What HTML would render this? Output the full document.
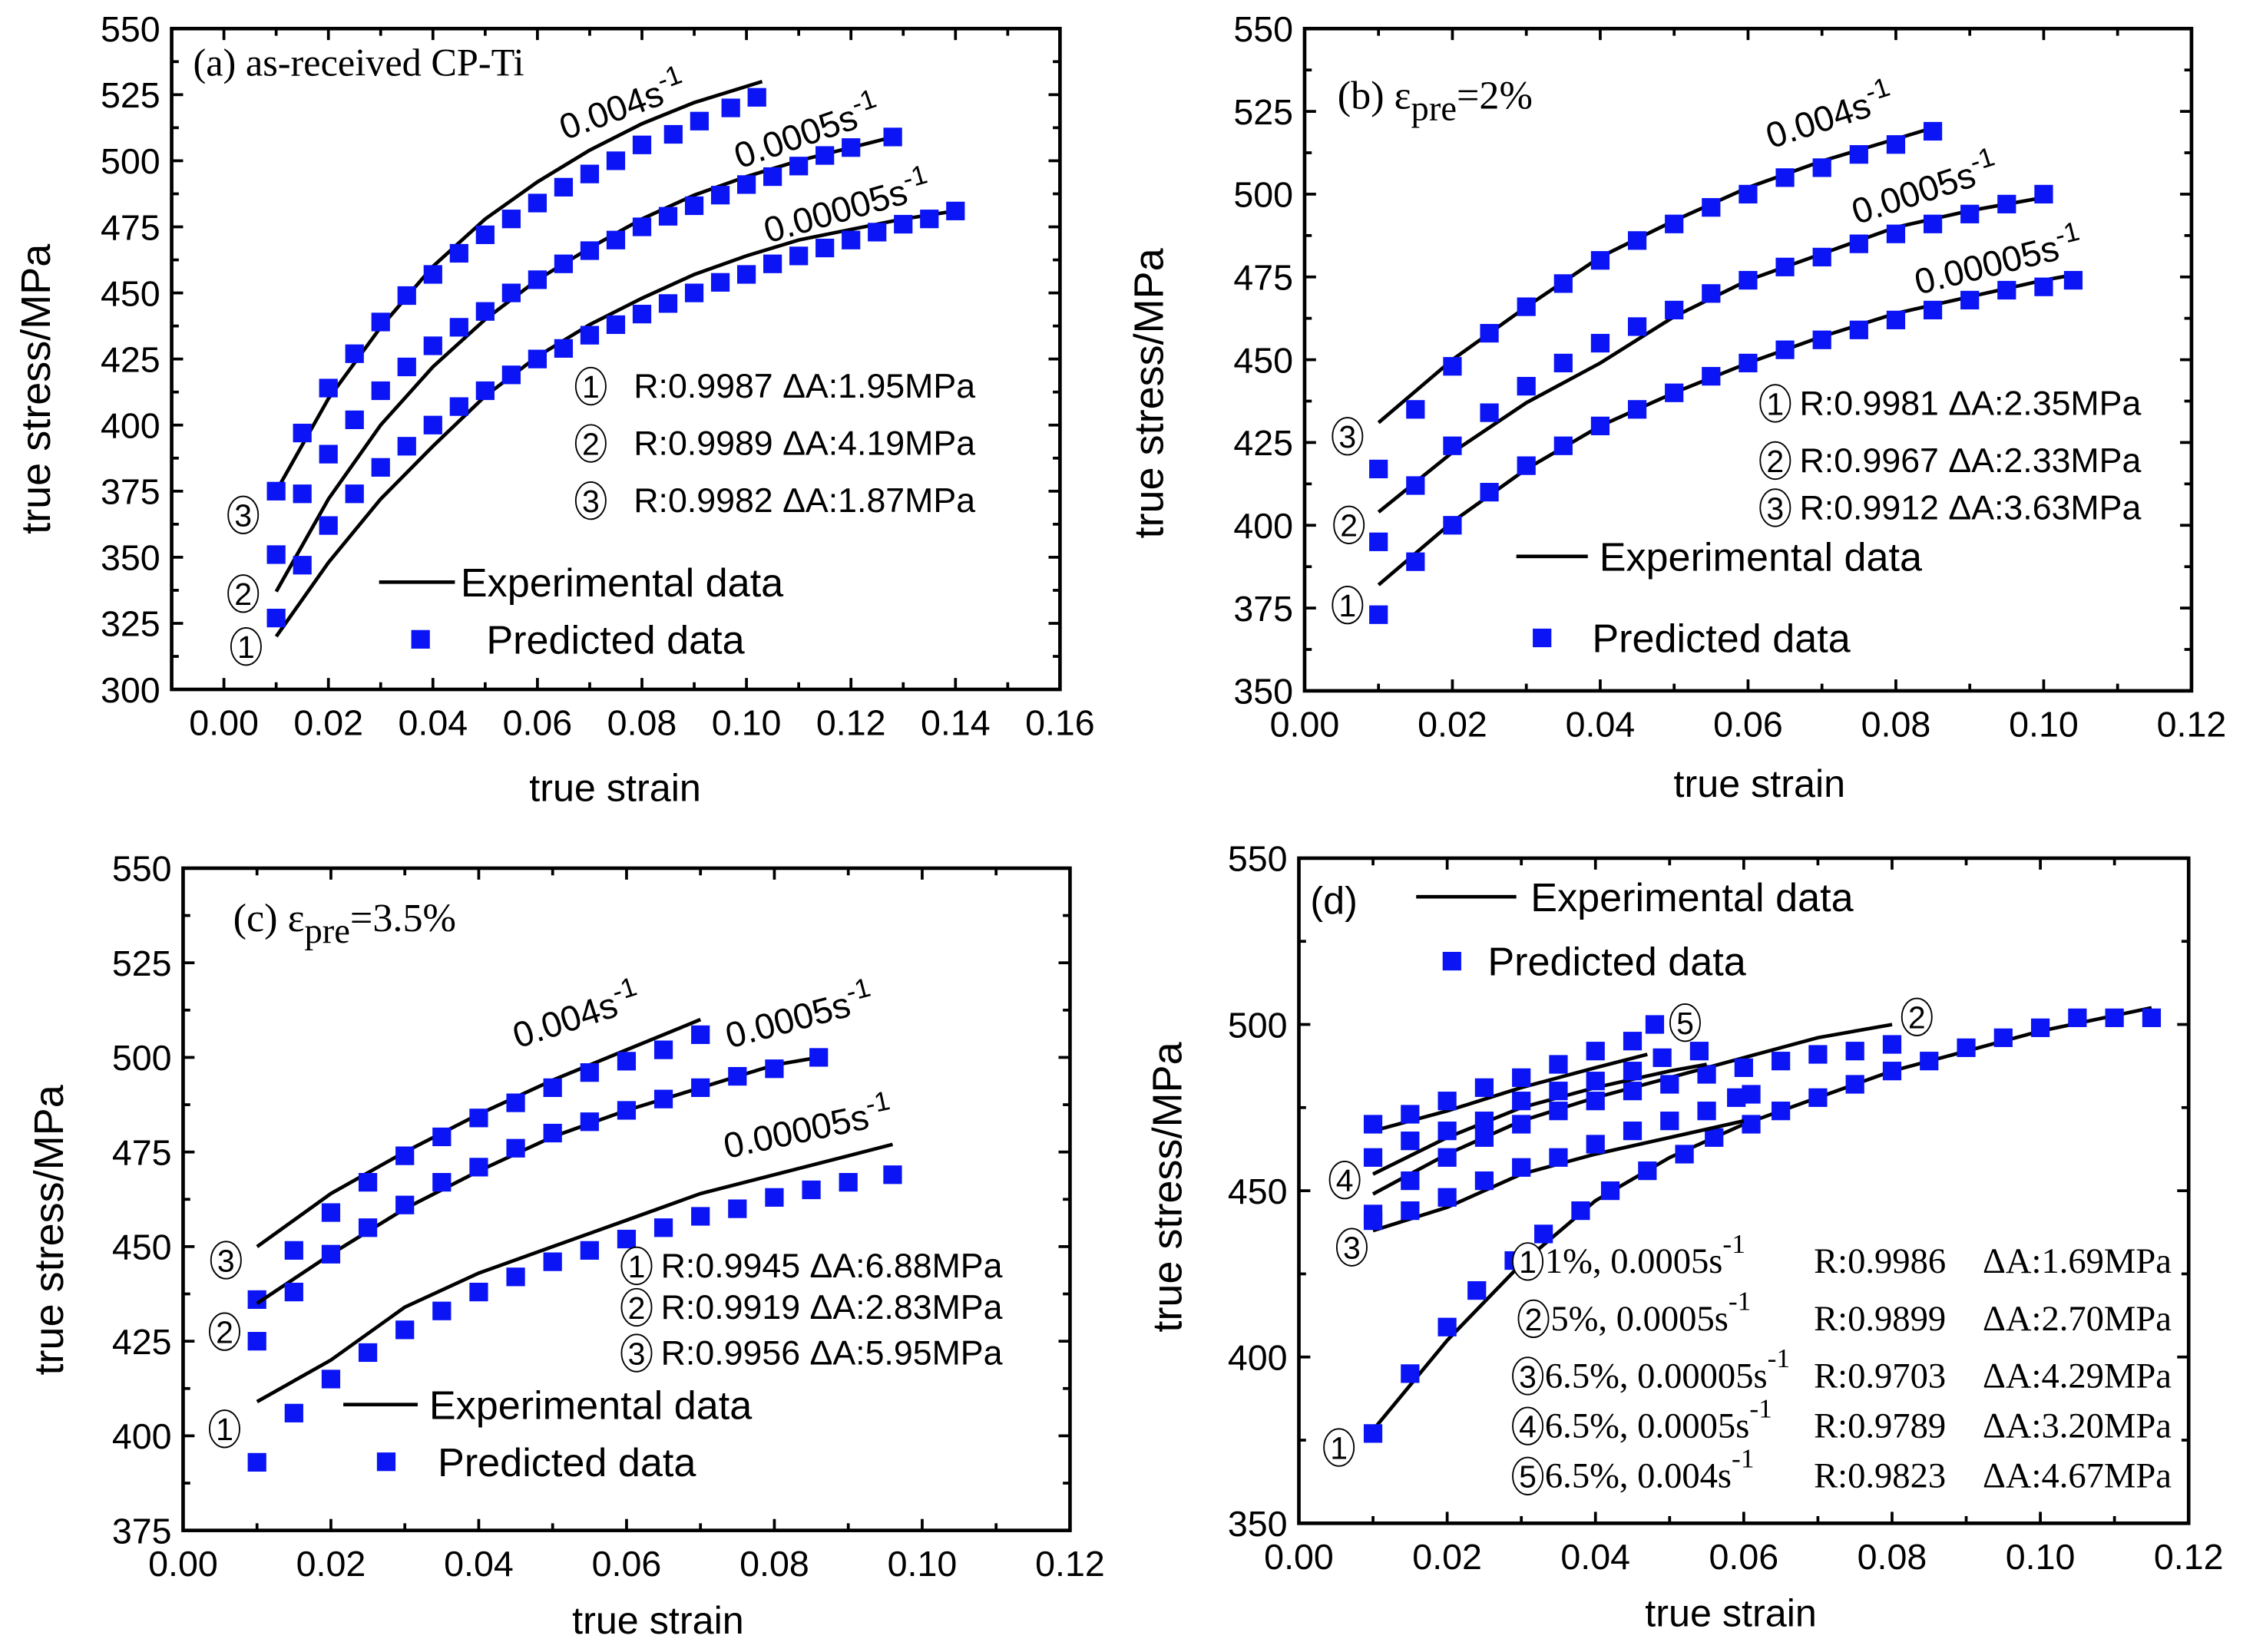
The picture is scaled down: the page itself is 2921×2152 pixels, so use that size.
<!DOCTYPE html>
<html><head><meta charset="utf-8"><style>
html,body{margin:0;padding:0;background:#fff}
svg{display:block}
.sans{font-family:"Liberation Sans",sans-serif}
.serif{font-family:"Liberation Serif",serif}
</style></head><body>
<svg id="fig" width="2921" height="2152" viewBox="0 0 1568 1155" preserveAspectRatio="none" xmlns="http://www.w3.org/2000/svg">
<rect width="1568" height="1155" fill="#fff"/>
</svg>
<script>
// ---------- Panel (a) data ----------
const aExp3 = [[0.01,375],[0.02,410],[0.03,437],[0.04,460],[0.05,478],[0.06,492],[0.07,504],[0.08,514],[0.09,522],[0.103,530]];
const aPre3 = [[0.01,375],[0.015,397],[0.02,414],[0.025,427],[0.03,439],[0.035,449],[0.04,457],[0.045,465],[0.05,472],[0.055,478],[0.06,484],[0.065,490],[0.07,495],[0.075,500],[0.08,506],[0.086,510],[0.091,515],[0.097,520],[0.102,524]];
const aExp2 = [[0.01,337],[0.02,372],[0.03,400],[0.04,422],[0.05,440],[0.06,455],[0.07,467],[0.08,478],[0.09,487],[0.1,494],[0.11,500],[0.12,505],[0.128,509]];
const aPre2 = [[0.01,351],[0.015,374],[0.02,389],[0.025,402],[0.03,413],[0.035,422],[0.04,430],[0.045,437],[0.05,443],[0.055,450],[0.06,455],[0.065,461],[0.07,466],[0.075,470],[0.08,475],[0.085,479],[0.09,483],[0.095,487],[0.1,491],[0.105,494],[0.11,498],[0.115,502],[0.12,505],[0.128,509]];
const aExp1 = [[0.01,320],[0.02,348],[0.03,372],[0.04,392],[0.05,411],[0.06,426],[0.07,438],[0.08,448],[0.09,457],[0.1,464],[0.11,470],[0.12,474],[0.13,478],[0.14,481]];
const aPre1 = [[0.01,327],[0.015,347],[0.02,362],[0.025,374],[0.03,384],[0.035,392],[0.04,400],[0.045,407],[0.05,413],[0.055,419],[0.06,425],[0.065,429],[0.07,434],[0.075,438],[0.08,442],[0.085,446],[0.09,450],[0.095,454],[0.1,457],[0.105,461],[0.11,464],[0.115,467],[0.12,470],[0.125,473],[0.13,476],[0.135,478],[0.14,481]];
const aXTicks = ["0.00","0.02","0.04","0.06","0.08","0.10","0.12","0.14","0.16"];
const aYTicks = ["300","325","350","375","400","425","450","475","500","525","550"];
// ---------- Panel (b) data ----------
const bExp3 = [[0.01,431],[0.02,450],[0.03,466],[0.04,481],[0.05,492],[0.06,502],[0.07,510],[0.085,520]];
const bPre3 = [[0.01,417],[0.015,435],[0.02,448],[0.025,458],[0.03,466],[0.035,473],[0.04,480],[0.045,486],[0.05,491],[0.055,496],[0.06,500],[0.065,505],[0.07,508],[0.075,512],[0.08,515],[0.085,519]];
const bExp2 = [[0.01,404],[0.02,422],[0.03,437],[0.04,449],[0.05,463],[0.06,474],[0.07,482],[0.08,490],[0.09,495],[0.1,499]];
const bPre2 = [[0.01,395],[0.015,412],[0.02,424],[0.025,434],[0.03,442],[0.035,449],[0.04,455],[0.045,460],[0.05,465],[0.055,470],[0.06,474],[0.065,478],[0.07,481],[0.075,485],[0.08,488],[0.085,491],[0.09,494],[0.095,497],[0.1,500]];
const bExp1 = [[0.01,382],[0.02,401],[0.03,417],[0.04,430],[0.05,440],[0.06,449],[0.07,457],[0.08,464],[0.09,469],[0.1,474],[0.105,476]];
const bPre1 = [[0.01,373],[0.015,389],[0.02,400],[0.025,410],[0.03,418],[0.035,424],[0.04,430],[0.045,435],[0.05,440],[0.055,445],[0.06,449],[0.065,453],[0.07,456],[0.075,459],[0.08,462],[0.085,465],[0.09,468],[0.095,471],[0.1,472],[0.104,474]];
const bXTicks = ["0.00","0.02","0.04","0.06","0.08","0.10","0.12"];
const bYTicks = ["350","375","400","425","450","475","500","525","550"];
// ---------- Panel (c) data ----------
const cExp3 = [[0.01,450],[0.02,464],[0.03,475],[0.04,485],[0.05,494],[0.06,502],[0.07,510]];
const cPre3 = [[0.01,436],[0.015,449],[0.02,459],[0.025,467],[0.03,474],[0.035,479],[0.04,484],[0.045,488],[0.05,492],[0.055,496],[0.06,499],[0.065,502],[0.07,506]];
const cExp2 = [[0.01,435],[0.02,448],[0.03,460],[0.04,470],[0.05,479],[0.06,486],[0.07,492],[0.08,498],[0.086,500]];
const cPre2 = [[0.01,425],[0.015,438],[0.02,448],[0.025,455],[0.03,461],[0.035,467],[0.04,471],[0.045,476],[0.05,480],[0.055,483],[0.06,486],[0.065,489],[0.07,492],[0.075,495],[0.08,497],[0.086,500]];
const cExp1 = [[0.01,409],[0.02,420],[0.03,434],[0.04,443],[0.05,450],[0.06,457],[0.07,464],[0.08,469],[0.09,474],[0.096,477]];
const cPre1 = [[0.01,393],[0.015,406],[0.02,415],[0.025,422],[0.03,428],[0.035,433],[0.04,438],[0.045,442],[0.05,446],[0.055,449],[0.06,452],[0.065,455],[0.07,458],[0.075,460],[0.08,463],[0.085,465],[0.09,467],[0.096,469]];
const cXTicks = ["0.00","0.02","0.04","0.06","0.08","0.10","0.12"];
const cYTicks = ["375","400","425","450","475","500","525","550"];
// ---------- Panel (d) data ----------
const dExp1 = [[0.01,378],[0.02,405],[0.03,428],[0.04,447],[0.05,460],[0.06,470],[0.07,478],[0.08,486],[0.09,492],[0.1,498],[0.115,505]];
const dPre1 = [[0.01,377],[0.015,395],[0.02,409],[0.024,420],[0.029,429],[0.033,437],[0.038,444],[0.042,450],[0.047,456],[0.052,461],[0.056,466],[0.061,470],[0.065,474],[0.07,478],[0.075,482],[0.08,486],[0.085,489],[0.09,493],[0.095,496],[0.1,499],[0.105,502],[0.11,502],[0.115,502]];
const dExp2 = [[0.01,449],[0.02,461],[0.03,471],[0.04,478],[0.05,484],[0.06,490],[0.07,496],[0.08,500]];
const dPre2 = [[0.01,443],[0.015,453],[0.02,460],[0.025,466],[0.03,470],[0.035,474],[0.04,477],[0.045,480],[0.05,482],[0.055,485],[0.06,487],[0.065,489],[0.07,491],[0.075,492],[0.08,494]];
const dExp3 = [[0.01,438],[0.02,445],[0.03,455],[0.04,461],[0.05,466],[0.06,471]];
const dPre3 = [[0.01,441],[0.015,444],[0.02,448],[0.025,453],[0.03,457],[0.035,460],[0.04,464],[0.045,468],[0.05,471],[0.055,474],[0.059,478],[0.061,479]];
const dExp4 = [[0.01,455],[0.02,466],[0.03,475],[0.04,481],[0.05,486],[0.055,488]];
const dPre4 = [[0.01,460],[0.015,465],[0.02,468],[0.025,471],[0.03,477],[0.035,480],[0.04,483],[0.045,486],[0.049,490],[0.054,492]];
const dExp5 = [[0.01,468],[0.02,474],[0.03,481],[0.04,487],[0.047,491]];
const dPre5 = [[0.01,470],[0.015,473],[0.02,477],[0.025,481],[0.03,484],[0.035,488],[0.04,492],[0.045,495],[0.048,500]];
const dXTicks = ["0.00","0.02","0.04","0.06","0.08","0.10","0.12"];
const dYTicks = ["350","400","450","500","550"];

const NS = "http://www.w3.org/2000/svg";
const fig = document.getElementById("fig");
function mk(tag, attrs, parent){
  const e = document.createElementNS(NS, tag);
  for (const k in attrs) e.setAttribute(k, attrs[k]);
  (parent||fig).appendChild(e);
  return e;
}
function txt(parent, x, y, s, size, cls, anchor, name, rot){
  const t = mk("text", {x:x, y:y, "font-size":size, "class":cls, "text-anchor":anchor||"start", fill:"#000"}, parent);
  if (rot) t.setAttribute("transform", "rotate("+rot+" "+x+" "+y+")");
  t.textContent = s;
  
  
  return t;
}
function panel(cfg){
  const g = mk("g", {});
  
  
  const X = v => cfg.x0 + (v - cfg.xmin) / (cfg.xmax - cfg.xmin) * (cfg.x1 - cfg.x0);
  const Y = v => cfg.y1 - (v - cfg.ymin) / (cfg.ymax - cfg.ymin) * (cfg.y1 - cfg.y0);
  const tg = mk("g", {stroke:"#000", "stroke-width":2}, g);
  
  
  const xstep = parseFloat(cfg.xt[1]) - parseFloat(cfg.xt[0]);
  cfg.xt.forEach((s,i) => {
    const v = parseFloat(s), px = X(v);
    mk("line", {x1:px, y1:cfg.y1, x2:px, y2:cfg.y1-8}, tg);
    mk("line", {x1:px, y1:cfg.y0, x2:px, y2:cfg.y0+8}, tg);
    const mp = X(v + xstep/2);
    if (mp < cfg.x1-1) { mk("line", {x1:mp, y1:cfg.y1, x2:mp, y2:cfg.y1-5}, tg); mk("line", {x1:mp, y1:cfg.y0, x2:mp, y2:cfg.y0+5}, tg); }
    if (i===0) { const mq = X(v - xstep/2); if (mq > cfg.x0+1) mk("line", {x1:mq, y1:cfg.y1, x2:mq, y2:cfg.y1-5}, tg); }
    txt(g, px, cfg.y1 + 32, s, 25, "sans", "middle", "x-tick-label");
  });
  const ystep = parseFloat(cfg.yt[1]) - parseFloat(cfg.yt[0]);
  cfg.yt.forEach((s,i) => {
    const v = parseFloat(s), py = Y(v);
    mk("line", {x1:cfg.x0, y1:py, x2:cfg.x0+8, y2:py}, tg);
    mk("line", {x1:cfg.x1, y1:py, x2:cfg.x1-8, y2:py}, tg);
    if (i < cfg.yt.length-1) {
      const mp = Y(v + ystep/2);
      mk("line", {x1:cfg.x0, y1:mp, x2:cfg.x0+5, y2:mp}, tg);
      mk("line", {x1:cfg.x1, y1:mp, x2:cfg.x1-5, y2:mp}, tg);
    }
    txt(g, cfg.x0 - 8, py + 9, s, 25, "sans", "end", "y-tick-label");
  });
  const fr = mk("rect", {x:cfg.x0, y:cfg.y0, width:cfg.x1-cfg.x0, height:cfg.y1-cfg.y0, fill:"none", stroke:"#000", "stroke-width":2.5}, g);
  
  
  txt(g, cfg.ytx, cfg.yty, "true stress/MPa", 29, "sans", "middle", "y-axis-title", -90);
  txt(g, cfg.xtx, cfg.xty, "true strain", 27, "sans", "middle", "x-axis-title");
  cfg.series.forEach(sr => {
    const d = sr.exp.map((p,i) => (i?"L":"M") + X(p[0]).toFixed(1) + " " + Y(p[1]).toFixed(1)).join(" ");
    const path = mk("path", {d:d, fill:"none", stroke:"#000", "stroke-width":2.5}, g);
    
    
    const mg = mk("g", {fill:"#0a14f5"}, g);
    
    
    sr.pre.forEach(p => {
      const r = mk("rect", {x:X(p[0])-6.5, y:Y(p[1])-6.5, width:13, height:13}, mg);
      
      
    });
  });
  return g;
}
function circNum(x, y, n){
  const g = mk("g", {});
  
  
  mk("ellipse", {cx:x, cy:y, rx:10.5, ry:13, fill:"#fff", stroke:"#000", "stroke-width":1}, g);
  txt(g, x, y + 8, String(n), 22, "sans", "middle", "circled-number-text");
}
function rate(x, y, base, rot){
  const t = txt(fig, x, y, base + "s", 25, "sans", "start", "strain-rate-label", rot);
  const ts = document.createElementNS(NS, "tspan");
  ts.setAttribute("dy", "-10"); ts.setAttribute("font-size", "19"); ts.textContent = "-1";
  t.appendChild(ts);
}
function legend(lx1, lx2, ly, tx, sx, sy, ptx){
  const l = mk("line", {x1:lx1, y1:ly, x2:lx2, y2:ly, stroke:"#000", "stroke-width":2.5});
  
  
  txt(fig, tx, ly + 10, "Experimental data", 28, "sans", "start", "legend-experimental");
  const r = mk("rect", {x:sx-6.5, y:sy-6.5, width:13, height:13, fill:"#0a14f5"});
  
  
  txt(fig, ptx, sy + 10, "Predicted data", 28, "sans", "start", "legend-predicted");
}

// Panel a
panel({name:"panel-a", x0:120, x1:741, y0:20, y1:482, xmin:-0.01, xmax:0.16, ymin:300, ymax:550,
  xt:aXTicks, yt:aYTicks, ytx:35, yty:272, xtx:430, xty:560,
  series:[{name:"a-0.004",exp:aExp3,pre:aPre3},{name:"a-0.0005",exp:aExp2,pre:aPre2},{name:"a-0.00005",exp:aExp1,pre:aPre1}]});
txt(fig, 135, 53, "(a) as-received CP-Ti", 27, "serif", "start", "panel-a-title");
rate(395, 98, "0.004", -20); rate(517, 118, "0.0005", -19); rate(537, 170, "0.00005", -16);
[[270,1,"R:0.9987 ΔA:1.95MPa"],[310,2,"R:0.9989 ΔA:4.19MPa"],[350,3,"R:0.9982 ΔA:1.87MPa"]].forEach(r => { circNum(413, r[0], r[1]); txt(fig, 443, r[0]+8, r[2], 24, "sans", "start", "fit-stat"); });
legend(265, 318, 407, 322, 294, 447, 340);
circNum(170, 360, 3); circNum(170, 415, 2); circNum(172, 452, 1);

// Panel b
panel({name:"panel-b", x0:912, x1:1532, y0:20, y1:483, xmin:0, xmax:0.12, ymin:350, ymax:550,
  xt:bXTicks, yt:bYTicks, ytx:813, yty:275, xtx:1230, xty:557,
  series:[{name:"b-0.004",exp:bExp3,pre:bPre3},{name:"b-0.0005",exp:bExp2,pre:bPre2},{name:"b-0.00005",exp:bExp1,pre:bPre1}]});
(function(){ const t = txt(fig, 935, 76, "(b)  ε", 28, "serif", "start", "panel-b-title");
  const s1 = document.createElementNS(NS,"tspan"); s1.setAttribute("dy","8"); s1.setAttribute("font-size","25"); s1.textContent="pre"; t.appendChild(s1);
  const s2 = document.createElementNS(NS,"tspan"); s2.setAttribute("dy","-8"); s2.textContent="=2%"; t.appendChild(s2); })();
rate(1238, 104, "0.004", -18); rate(1298, 157, "0.0005", -18); rate(1341, 206, "0.00005", -14);
[[282,1,"R:0.9981 ΔA:2.35MPa"],[322,2,"R:0.9967 ΔA:2.33MPa"],[355,3,"R:0.9912 ΔA:3.63MPa"]].forEach(r => { circNum(1241, r[0], r[1]); txt(fig, 1258, r[0]+8, r[2], 24, "sans", "start", "fit-stat"); });
legend(1060, 1110, 389, 1118, 1078, 446, 1113);
circNum(942, 305, 3); circNum(943, 367, 2); circNum(942, 423, 1);

// Panel c
panel({name:"panel-c", x0:128, x1:748, y0:607, y1:1070, xmin:0, xmax:0.12, ymin:375, ymax:550,
  xt:cXTicks, yt:cYTicks, ytx:44, yty:860, xtx:460, xty:1142,
  series:[{name:"c-0.004",exp:cExp3,pre:cPre3},{name:"c-0.0005",exp:cExp2,pre:cPre2},{name:"c-0.00005",exp:cExp1,pre:cPre1}]});
(function(){ const t = txt(fig, 163, 651, "(c) ε", 28, "serif", "start", "panel-c-title");
  const s1 = document.createElementNS(NS,"tspan"); s1.setAttribute("dy","8"); s1.setAttribute("font-size","25"); s1.textContent="pre"; t.appendChild(s1);
  const s2 = document.createElementNS(NS,"tspan"); s2.setAttribute("dy","-8"); s2.textContent="=3.5%"; t.appendChild(s2); })();
rate(362, 733, "0.004", -18); rate(510, 733, "0.0005", -15); rate(508, 810, "0.00005", -12);
[[885,1,"R:0.9945 ΔA:6.88MPa"],[914,2,"R:0.9919 ΔA:2.83MPa"],[946,3,"R:0.9956 ΔA:5.95MPa"]].forEach(r => { circNum(445, r[0], r[1]); txt(fig, 462, r[0]+8, r[2], 24, "sans", "start", "fit-stat"); });
legend(240, 292, 982, 300, 270, 1022, 306);
circNum(158, 881, 3); circNum(157, 931, 2); circNum(157, 999, 1);

// Panel d
panel({name:"panel-d", x0:908, x1:1530, y0:600, y1:1065, xmin:0, xmax:0.12, ymin:350, ymax:550,
  xt:dXTicks, yt:dYTicks, ytx:826, yty:830, xtx:1210, xty:1137,
  series:[{name:"d-1",exp:dExp1,pre:dPre1},{name:"d-2",exp:dExp2,pre:dPre2},{name:"d-3",exp:dExp3,pre:dPre3},{name:"d-4",exp:dExp4,pre:dPre4},{name:"d-5",exp:dExp5,pre:dPre5}]});
txt(fig, 916, 639, "(d)", 27, "sans", "start", "panel-d-title");
legend(990, 1060, 627, 1070, 1015, 672, 1040);
circNum(1178, 715, 5); circNum(1340, 711, 2); circNum(940, 825, 4); circNum(945, 872, 3); circNum(936, 1012, 1);
[[890,1,"1%, 0.0005s","R:0.9986","ΔA:1.69MPa",1058],[930,2,"5%, 0.0005s","R:0.9899","ΔA:2.70MPa",1062],[970,3,"6.5%, 0.00005s","R:0.9703","ΔA:4.29MPa",1058],[1005,4,"6.5%, 0.0005s","R:0.9789","ΔA:3.20MPa",1058],[1040,5,"6.5%, 0.004s","R:0.9823","ΔA:4.67MPa",1058]].forEach(r => {
  circNum(r[5]+10, r[0]-8, r[1]);
  const t = txt(fig, r[5]+22, r[0], r[2], 25, "serif", "start", "condition-label");
  const ts = document.createElementNS(NS,"tspan"); ts.setAttribute("dy","-14"); ts.setAttribute("font-size","19"); ts.textContent="-1"; t.appendChild(ts);
  txt(fig, 1268, r[0], r[3], 25, "serif", "start", "fit-r");
  txt(fig, 1386, r[0], r[4], 25, "serif", "start", "fit-delta");
});
</script>
</body></html>
